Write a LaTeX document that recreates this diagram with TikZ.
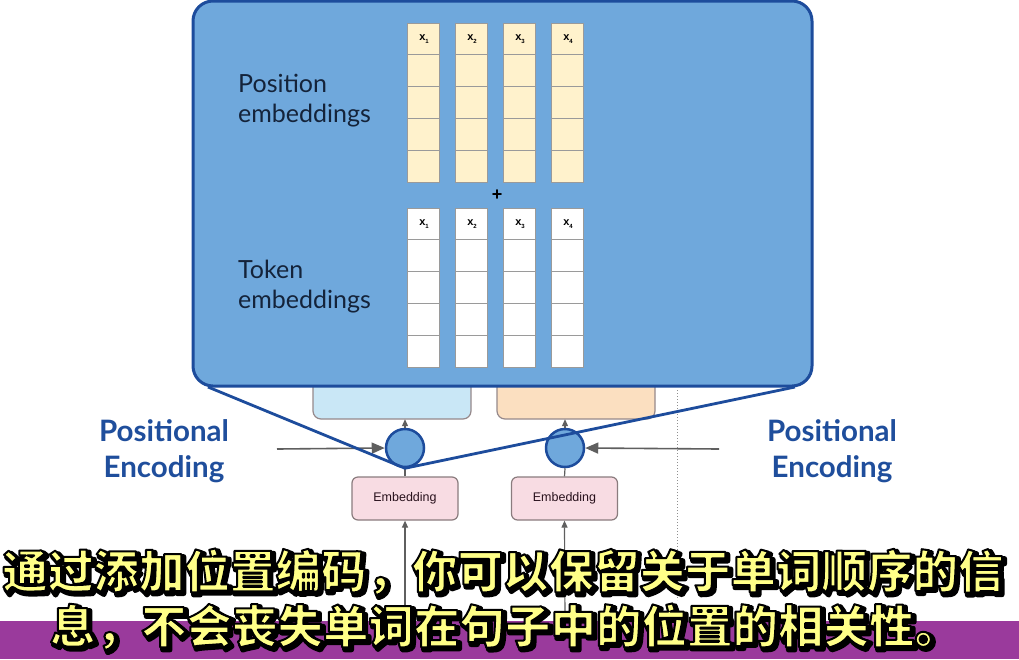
\documentclass[tikz,border=0pt]{standalone}
\usepackage{fontspec}
\usetikzlibrary{arrows.meta}
\newfontfamily\lato{Lato}
\newfontfamily\cjk{Noto Sans CJK SC}
\newfontfamily\arialf{Liberation Sans}
\definecolor{bigfill}{HTML}{6FA8DC}
\definecolor{bigline}{HTML}{1D4C9C}
\definecolor{posfill}{HTML}{FFF2CC}
\definecolor{cellline}{HTML}{9A9A9A}
\definecolor{encfill}{HTML}{C9E7F6}
\definecolor{decfill}{HTML}{FBDFC0}
\definecolor{embfill}{HTML}{F8DCE3}
\definecolor{embline}{HTML}{8A7C7E}
\definecolor{arrgray}{HTML}{5F5F5F}
\definecolor{petext}{HTML}{1F4E9C}
\definecolor{labtext}{HTML}{14233A}
\definecolor{purpleband}{HTML}{9A3A9C}
\definecolor{subyellow}{HTML}{FFFF88}
\newcommand\outl[1]{\rlap{\hspace*{2.5pt}\raisebox{-2.5pt}{\color{black}\special{pdf:literal direct 2 Tr 5 w 1 j}#1\special{pdf:literal direct 0 Tr}}}{\color{subyellow}\special{pdf:literal direct 0 0 0 RG 2 Tr 2 w 1 j}#1\special{pdf:literal direct 0 Tr}}}
\newcommand\xlab[1]{{\arialf\bfseries\fontsize{11}{11}\selectfont x\raisebox{-3pt}{\fontsize{6}{6}\selectfont #1}}}
\tikzset{
  poscell/.style={draw=cellline, fill=posfill, line width=1pt, minimum width=32pt, minimum height=31.8pt, inner sep=0pt},
  tokcell/.style={draw=cellline, fill=white, line width=1pt, minimum width=32pt, minimum height=31.8pt, inner sep=0pt},
  sidebox/.style={draw=embline!90, line width=1.2pt, rounded corners=8pt},
  embbox/.style={draw=embline, fill=embfill, line width=1.2pt, rounded corners=6pt, minimum width=106pt, minimum height=43pt, inner sep=0pt, font=\arialf\fontsize{12.5}{12.5}\selectfont, text=labtext!80!red!60!black},
  addcirc/.style={circle, draw=bigline, fill=bigfill, line width=2.5pt, minimum size=38pt, inner sep=0pt},
  garrow/.style={draw=arrgray, line width=1.6pt, -{Triangle[length=13pt,width=11pt]}},
  sarrow/.style={draw=arrgray, line width=1.2pt, -{Triangle[length=7pt,width=6pt]}},
  bluelink/.style={draw=bigline, line width=2.8pt},
  pelabel/.style={font=\lato\bfseries\fontsize{29.5}{36}\selectfont, text=petext, align=center},
  emblabel/.style={font=\lato\fontsize{25}{30}\selectfont, text=labtext, align=left, anchor=north west, inner sep=0pt},
  subline/.style={font=\cjk\bfseries\fontsize{45.5}{45.5}\selectfont, inner sep=0pt}
}
\begin{document}
\begin{tikzpicture}[x=1pt,y=-1pt]
\useasboundingbox (0,0) rectangle (1019,659);
\fill[white] (0,0) rectangle (1019,659);
% side boxes behind main panel
\draw[sidebox, fill=encfill] (313,360) rectangle (471,419);
\node[inner sep=0pt, minimum size=0pt] (enc) at (392,419) {};
\draw[sidebox, fill=decfill] (497,360) rectangle (655,419);
\node[inner sep=0pt, minimum size=0pt] (dec) at (576,419) {};
% dotted separator
\coordinate (d1) at (677,390);
\coordinate (d2) at (677,600);
\draw[arrgray!70, line width=1pt, dotted] (d1) -- (d2);
% main panel
\draw[draw=bigline, fill=bigfill, line width=3pt, rounded corners=20pt] (193,1) rectangle (812,386);
% labels
\node[emblabel] (poslab) at (238,74) {Position\\embeddings};
\node[emblabel] (toklab) at (238,260) {Token\\embeddings};
% cells
\foreach \i in {1,...,4} {
  \foreach \r in {1,...,5} {
    \node[poscell] (p\i\r) at ({423+48*(\i-1)}, {23+31.8*(\r-0.5)}) {};
    \node[tokcell] (t\i\r) at ({423+48*(\i-1)}, {208+31.8*(\r-0.5)}) {};
  }
  \node at ([xshift=1pt]p\i1) {\xlab{\i}};
  \node at ([xshift=1pt]t\i1) {\xlab{\i}};
}
\node[font=\arialf\bfseries\fontsize{18}{18}\selectfont, text=black] (plus) at (497,195) {+};
% circles and embeddings
\node[addcirc] (c1) at (405,448) {};
\node[addcirc] (c2) at (565,448) {};
\node[embbox] (e1) at (405,498.5) {Embedding};
\node[embbox] (e2) at (564.5,498.5) {Embedding};
\draw[arrgray, line width=1.2pt] (e1.north) -- (c1.south);
\draw[arrgray, line width=1.2pt] (e2.north) -- (c2.south);
\draw[sarrow] (c1.north) -- (c1.north |- enc.south);
\draw[sarrow] (c2.north) -- (c2.north |- dec.south);
\coordinate (pl) at (277,449);
\coordinate (pr) at (719,449);
\draw[garrow] (pl) -- (c1.west);
\draw[garrow] (pr) -- (c2.east);
\coordinate (i1) at (405,625);
\coordinate (i2) at (565,625);
\draw[sarrow] (i1) -- (e1.south);
\draw[sarrow] (i2) -- (e2.south);
% funnel lines
\coordinate (bl) at (208,387);
\coordinate (br) at (795,387);
\draw[bluelink] (bl) -- (c1.south) -- (br);
% positional encoding labels
\node[pelabel] (pel) at (164,451) {Positional\\Encoding};
\node[pelabel] (per) at (832,451) {Positional\\Encoding};
% bottom band and subtitles
\fill[purpleband] (0,621) rectangle (1019,659);
\node[subline] (s1) at (503,573) {\outl{通过添加位置编码，你可以保留关于单词顺序的信}};
\node[subline] (s2) at (505,628) {\outl{息，不会丧失单词在句子中的位置的相关性。}};
\end{tikzpicture}
\end{document}
